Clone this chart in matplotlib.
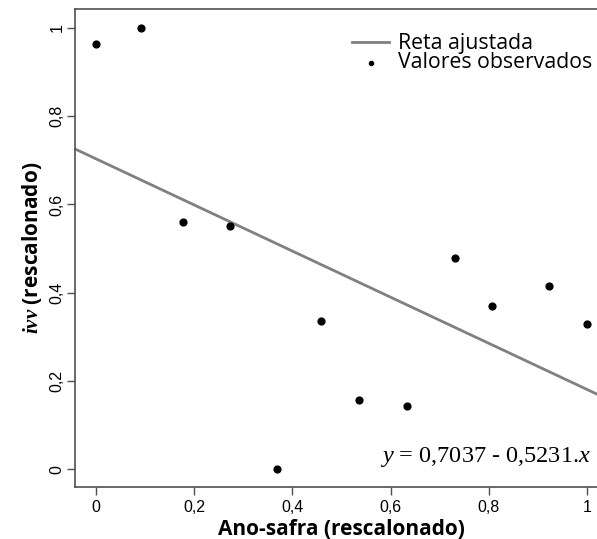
import matplotlib
matplotlib.use("Agg")
import matplotlib.pyplot as plt
import numpy as np

plt.rcParams['mathtext.fontset'] = 'custom'
plt.rcParams['mathtext.rm'] = 'Liberation Serif'
plt.rcParams['mathtext.it'] = 'Liberation Serif:italic'
plt.rcParams['mathtext.bf'] = 'Liberation Serif:bold'
plt.rcParams['mathtext.bfit'] = 'Liberation Serif:italic:bold'

ano = [0.0, 0.093, 0.178, 0.273, 0.369, 0.458, 0.536, 0.633, 0.731, 0.807, 0.922, 1.0]
ivv = [0.964, 1.0, 0.561, 0.551, 0.0, 0.337, 0.156, 0.143, 0.479, 0.370, 0.416, 0.329]
intercept = 0.7037
slope = -0.5231
xticks = [0, 0.2, 0.4, 0.6, 0.8, 1.0]
xticklabels = ["0", "0,2", "0,4", "0,6", "0,8", "1"]
yticks = [0, 0.2, 0.4, 0.6, 0.8, 1.0]
yticklabels = ["0", "0,2", "0,4", "0,6", "0,8", "1"]

W, H = 597, 539
fig = plt.figure(figsize=(W/100, H/100), dpi=100)
L, R, T, B = 75, 607, 9.3, 487
ax = fig.add_axes([L/W, (H-B)/H, (R-L)/W, (B-T)/H])
ax.set_xlim(-0.042, 1.04)
ax.set_ylim(-0.040, 1.042)

xx = np.array(ax.get_xlim())
ax.plot(xx, intercept + slope*xx, color='#808080', lw=2, label='Reta ajustada', zorder=2)
ax.scatter(ano, ivv, s=24, color='black', zorder=3, label='Valores observados')

for s in ax.spines.values():
    s.set_color('#505050')
    s.set_linewidth(1.2)

ax.set_xticks(xticks)
ax.set_xticklabels(xticklabels, fontfamily='Liberation Sans', fontsize=11.5)
ax.set_yticks(yticks)
ax.set_yticklabels(yticklabels, fontfamily='Liberation Sans', fontsize=11.5, rotation=90, va='center')
ax.tick_params(direction='out', length=6, width=1, color='#505050')
ax.tick_params(axis='y', pad=1.5)
ax.tick_params(axis='x', pad=3.5)

ax.set_xlabel('Ano-safra (rescalonado)', fontfamily='Open Sans', fontweight='bold', fontsize=15, labelpad=2.5)
ax.set_ylabel(r'$\mathbfit{ivv}$ (rescalonado)', fontfamily='Open Sans', fontweight='bold', fontsize=15, labelpad=4)

leg = ax.legend(loc='upper right', bbox_to_anchor=(592/W, (H-33)/H), bbox_transform=fig.transFigure,
                frameon=False, prop={'family': 'Open Sans', 'size': 15.3}, handlelength=1.75,
                handletextpad=0.4, labelspacing=-0.08, borderaxespad=0, borderpad=0, markerscale=0.6)

ax.text(591, H-462, r'$y$ = 0,7037 - 0,5231.$x$', fontfamily='Liberation Serif', fontsize=17.5,
        ha='right', va='baseline', transform=None)

fig.savefig('out.png', dpi=100)
